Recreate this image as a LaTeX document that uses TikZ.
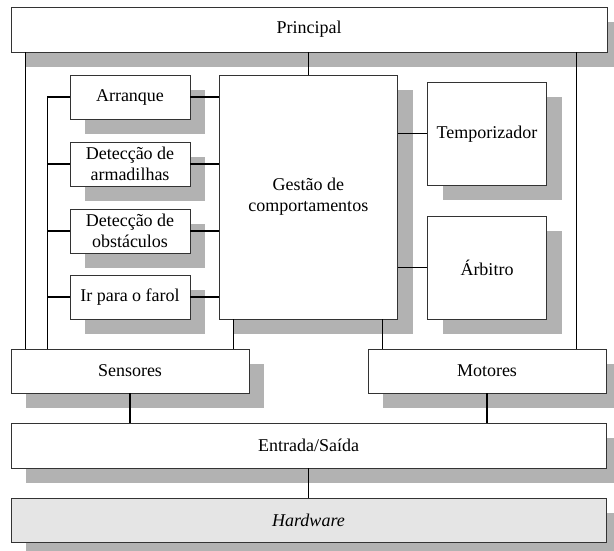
\documentclass[tikz,border=0pt]{standalone}
\usepackage{fontspec}
\setmainfont{Liberation Serif}
\usetikzlibrary{shadows}
\definecolor{shgray}{gray}{0.70}
\definecolor{hwgray}{gray}{0.90}
\definecolor{bordergray}{gray}{0.2}
\begin{document}
\begin{tikzpicture}[x=1pt,y=-1pt,
  box/.style={draw=bordergray, line width=0.8pt, fill=white, rectangle, inner sep=0pt,
    align=center, font=\fontsize{18}{21}\selectfont,
    drop shadow={shadow xshift=15pt, shadow yshift=-15pt, fill=shgray, opacity=1}},
  conn/.style={line width=1.3pt, black}]
\useasboundingbox (0,0) rectangle (614,551);

\node[box, minimum width=596pt, minimum height=45pt] (princ) at (309,29.5) {Principal};
\node[box, minimum width=120pt, minimum height=44pt] (arr) at (130,97) {Arranque};
\node[box, minimum width=120pt, minimum height=44pt] (arm) at (130,164) {Detecção de\\armadilhas};
\node[box, minimum width=120pt, minimum height=44pt] (obs) at (130,231) {Detecção de\\obstáculos};
\node[box, minimum width=120pt, minimum height=44pt] (far) at (130,297) {Ir para o farol};
\node[box, minimum width=178.5pt, minimum height=244pt] (gest) at (308.25,197) {Gestão de\\comportamentos};
\node[box, minimum width=119pt, minimum height=102.5pt] (temp) at (487,133.75) {Temporizador};
\node[box, minimum width=119pt, minimum height=103pt] (arb) at (487,267.5) {Árbitro};
\node[box, minimum width=238pt, minimum height=44pt] (sens) at (130,371) {Sensores};
\node[box, minimum width=238pt, minimum height=44pt] (mot) at (487,371) {Motores};
\node[box, minimum width=595pt, minimum height=45pt] (ent) at (308.5,445.5) {Entrada/Saída};
\node[box, fill=hwgray, minimum width=595pt, minimum height=44pt] (hw) at (308.5,520) {\itshape Hardware};

\coordinate (lo) at ([xshift=15pt]sens.north west);
\coordinate (li) at ([xshift=37pt]sens.north west);
\coordinate (gs) at ([xshift=15pt]gest.south west);
\coordinate (gm) at ([xshift=15pt]mot.north west);
\coordinate (ro) at ([xshift=-30pt]mot.north east);

\draw[conn] (lo) -- (lo |- princ.south);
\draw[conn] (ro) -- (ro |- princ.south);
\draw[conn] (gest.north) -- (gest.north |- princ.south);
\draw[conn] (arr.west) -- (li |- arr.west) -- (li);
\draw[conn] (arm.west) -- (li |- arm.west);
\draw[conn] (obs.west) -- (li |- obs.west);
\draw[conn] (far.west) -- (li |- far.west);
\draw[conn] (arr.east) -- (arr.east -| gest.west);
\draw[conn] (arm.east) -- (arm.east -| gest.west);
\draw[conn] (obs.east) -- (obs.east -| gest.west);
\draw[conn] (far.east) -- (far.east -| gest.west);
\draw[conn] (temp.west) -- (temp.west -| gest.east);
\draw[conn] (arb.west) -- (arb.west -| gest.east);
\draw[conn] (gs) -- (gs |- sens.north);
\draw[conn] (gm) -- (gm |- gest.south);
\draw[conn] (sens.south) -- (sens.south |- ent.north);
\draw[conn] (mot.south) -- (mot.south |- ent.north);
\draw[conn] (ent.south) -- (hw.north);
\end{tikzpicture}
\end{document}
